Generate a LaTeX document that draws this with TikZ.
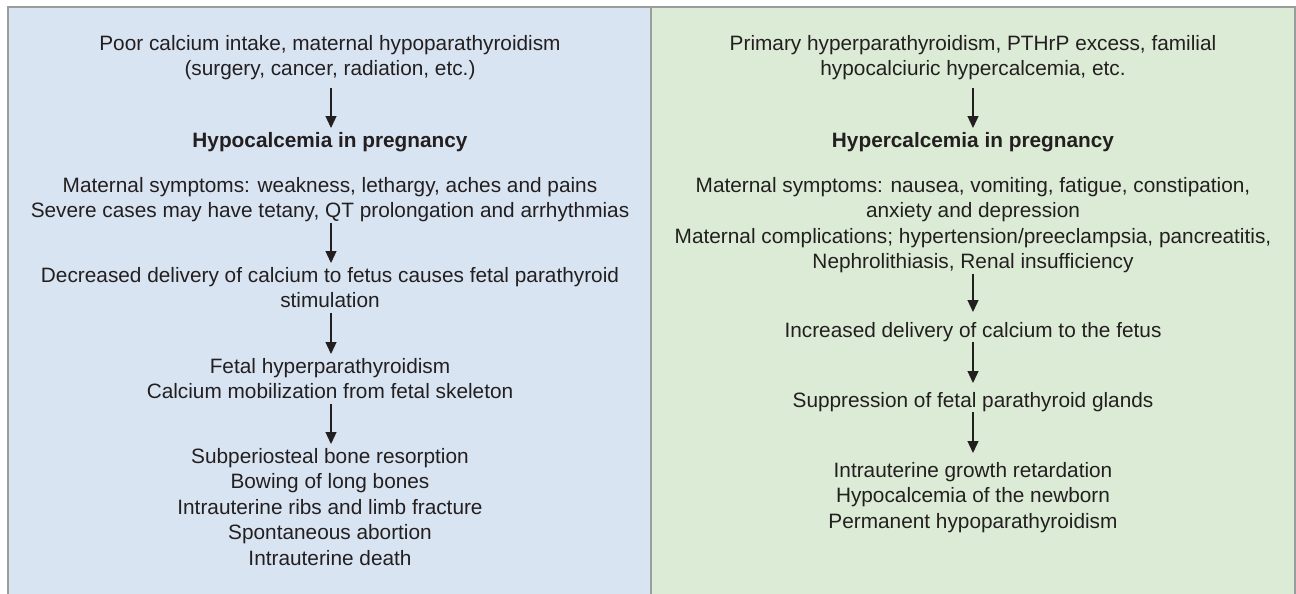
\documentclass[tikz,border=0pt]{standalone}
\usepackage{fontspec}
\setmainfont{Liberation Sans}
\usetikzlibrary{arrows.meta}
\definecolor{leftfill}{HTML}{D9E4F2}
\definecolor{rightfill}{HTML}{DCEBD6}
\definecolor{bordergray}{HTML}{9C9C9C}
\definecolor{ink}{HTML}{231F20}
\newcommand{\Tst}{\rule{0pt}{19pt}}
\newcommand{\Bst}{\rule[-5pt]{0pt}{5pt}}
\tikzset{
  txt/.style={anchor=north, inner sep=0pt, align=center, text=ink,
    font=\fontsize{20.8}{25.5}\selectfont},
  hdr/.style={txt, font=\fontsize{20.8}{25.5}\selectfont\bfseries},
  arr/.style={draw=ink, line width=1.3pt, -{Triangle[length=12pt,width=11pt]}},
  panelborder/.style={draw=bordergray, line width=2pt}
}
\begin{document}
\begin{tikzpicture}[x=1pt,y=-1pt]
\useasboundingbox (0,0) rectangle (1296,594);
\fill[white] (0,0) rectangle (1296,594);
\fill[leftfill] (8,7) rectangle (651,594);
\fill[rightfill] (651,7) rectangle (1295,594);
\draw[panelborder] (8,594) -- (8,7) -- (1295,7) -- (1295,594);
\draw[panelborder] (651,7) -- (651,594);

% left panel
\node[txt] (l1) at (330,31) {\Tst Poor calcium intake, maternal hypoparathyroidism\\(surgery, cancer, radiation, etc.)\Bst};
\node[hdr] (l2) at (330,128) {\Tst Hypocalcemia in pregnancy\Bst};
\node[txt] (l3) at (330,173) {\Tst Maternal symptoms: weakness, lethargy, aches and pains\\Severe cases may have tetany, QT prolongation and arrhythmias\Bst};
\node[txt] (l4) at (330,263) {\Tst Decreased delivery of calcium to fetus causes fetal parathyroid\\stimulation\Bst};
\node[txt] (l5) at (330,354) {\Tst Fetal hyperparathyroidism\\Calcium mobilization from fetal skeleton\Bst};
\node[txt] (l6) at (330,444) {\Tst Subperiosteal bone resorption\\Bowing of long bones\\Intrauterine ribs and limb fracture\\Spontaneous abortion\\Intrauterine death\Bst};

\draw[arr, shorten <=7pt] ([xshift=1pt]l1.south) -- ([xshift=1pt]l2.north);
\draw[arr] ([xshift=1pt]l3.south) -- ([xshift=1pt]l4.north);
\draw[arr] ([xshift=1pt]l4.south) -- ([xshift=1pt]l5.north);
\draw[arr] ([xshift=1pt]l5.south) -- ([xshift=1pt]l6.north);

% right panel
\node[txt] (r1) at (973,31) {\Tst Primary hyperparathyroidism, PTHrP excess, familial\\hypocalciuric hypercalcemia, etc.\Bst};
\node[hdr] (r2) at (973,128) {\Tst Hypercalcemia in pregnancy\Bst};
\node[txt] (r3) at (973,173) {\Tst Maternal symptoms: nausea, vomiting, fatigue, constipation,\\anxiety and depression\\Maternal complications; hypertension/preeclampsia, pancreatitis,\\Nephrolithiasis, Renal insufficiency\Bst};
\node[txt] (r4) at (973,318) {\Tst Increased delivery of calcium to the fetus\Bst};
\node[txt] (r5) at (973,388) {\Tst Suppression of fetal parathyroid glands\Bst};
\node[txt] (r6) at (973,458) {\Tst Intrauterine growth retardation\\Hypocalcemia of the newborn\\Permanent hypoparathyroidism\Bst};

\draw[arr, shorten <=7pt] (r1.south) -- (r2.north);
\draw[arr, shorten >=6pt] (r3.south) -- (r4.north);
\draw[arr, shorten >=5pt] (r4.south) -- (r5.north);
\draw[arr, shorten >=5pt] (r5.south) -- (r6.north);
\end{tikzpicture}
\end{document}
